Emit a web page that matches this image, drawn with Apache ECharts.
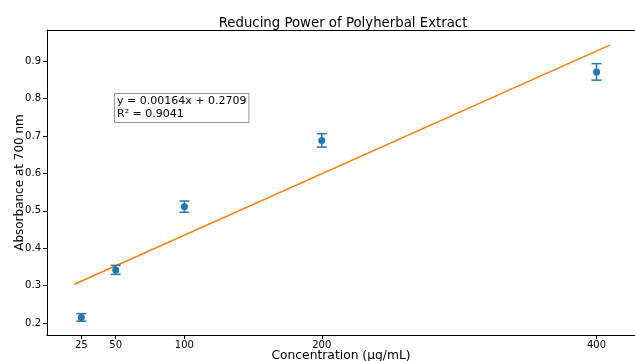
<!DOCTYPE html>
<html>
<head>
<meta charset="utf-8">
<script src="https://cdn.jsdelivr.net/npm/echarts@6/dist/echarts.min.js"></script>
<style>
  html, body { margin: 0; padding: 0; background: #fff; }
  #chart { width: 635px; height: 361px; }
</style>
</head>
<body>
<div id="chart"></div>
<script>
// concentration (ug/mL) and mean absorbance with error (+/-)
var concentrations = [25, 50, 100, 200, 400];
var absorbance = [0.215, 0.342, 0.511, 0.688, 0.871];
var errors = [0.010, 0.012, 0.015, 0.018, 0.022];

// fitted line end points
var fitX = [20, 410];
var fitY = [0.3037, 0.9433];

var xTicks = [25, 50, 100, 200, 400];
var yTicks = [0.2, 0.3, 0.4, 0.5, 0.6, 0.7, 0.8, 0.9];

var equationText = 'y = 0.00164x + 0.2709';
var r2Text = 'R² = 0.9041';

var font = 'DejaVu Sans';
var blue = '#1f77b4';
var orange = '#ff7f0e';

var chart = echarts.init(document.getElementById('chart'));

var points = concentrations.map(function (c, i) { return [c, absorbance[i]]; });
var bars = concentrations.map(function (c, i) {
  return [c, absorbance[i] - errors[i], absorbance[i] + errors[i]];
});
var fitLine = fitX.map(function (x, i) { return [x, fitY[i]]; });

function renderErrorBar(params, api) {
  var x = api.value(0);
  var lo = api.coord([x, api.value(1)]);
  var hi = api.coord([x, api.value(2)]);
  var cap = 5;
  var style = { stroke: blue, lineWidth: 1.5 };
  return {
    type: 'group',
    children: [
      { type: 'line', shape: { x1: lo[0], y1: lo[1], x2: hi[0], y2: hi[1] }, style: style },
      { type: 'line', shape: { x1: lo[0] - cap, y1: lo[1], x2: lo[0] + cap, y2: lo[1] }, style: style },
      { type: 'line', shape: { x1: hi[0] - cap, y1: hi[1], x2: hi[0] + cap, y2: hi[1] }, style: style }
    ]
  };
}

var option = {
  animation: false,
  backgroundColor: '#fff',
  title: {
    text: 'Reducing Power of Polyherbal Extract',
    left: 338,
    top: 12,
    textAlign: 'center',
    textStyle: { fontFamily: font, fontSize: 13.3, fontWeight: 'normal', color: '#000' }
  },
  grid: { left: 47, top: 30, right: 0, bottom: 26, containLabel: false, outerBoundsMode: 'none' },
  xAxis: [{
    type: 'value',
    min: 0,
    max: 428,
    name: 'Concentration (μg/mL)',
    nameLocation: 'middle',
    nameGap: 15,
    nameMoveOverlap: false,
    nameTextStyle: { fontFamily: font, fontSize: 12.3, color: '#000', verticalAlign: 'top' },
    splitLine: { show: false },
    axisLine: { show: true, onZero: false, lineStyle: { color: '#000', width: 1 } },
    axisTick: { show: true, length: 4, customValues: xTicks, lineStyle: { color: '#000' } },
    axisLabel: { customValues: xTicks, fontFamily: font, fontSize: 10, color: '#000', margin: 5 }
  }, {
    type: 'value',
    position: 'top',
    min: 0,
    max: 428,
    axisLine: { show: true, onZero: false, lineStyle: { color: '#000', width: 1 } },
    axisTick: { show: false },
    axisLabel: { show: false },
    splitLine: { show: false }
  }],
  yAxis: {
    type: 'value',
    min: 0.168,
    max: 0.983,
    name: 'Absorbance at 700 nm',
    nameLocation: 'middle',
    nameGap: 27,
    nameMoveOverlap: false,
    nameTextStyle: { fontFamily: font, fontSize: 12, color: '#000', verticalAlign: 'middle' },
    splitLine: { show: false },
    axisLine: { show: true, onZero: false, lineStyle: { color: '#000', width: 1 } },
    axisTick: { show: true, length: 4, customValues: yTicks, lineStyle: { color: '#000' } },
    axisLabel: { customValues: yTicks, fontFamily: font, fontSize: 10, color: '#000', margin: 6,
      formatter: function (v) { return v.toFixed(1); } }
  },
  series: [
    {
      type: 'line',
      data: fitLine,
      showSymbol: false,
      lineStyle: { color: orange, width: 1.5 },
      z: 1
    },
    {
      type: 'custom',
      data: bars,
      renderItem: renderErrorBar,
      z: 2
    },
    {
      type: 'scatter',
      data: points,
      symbolSize: 7,
      itemStyle: { color: blue, opacity: 1 },
      z: 3
    }
  ],
  graphic: [{
    type: 'text',
    left: 114,
    top: 93,
    style: {
      text: equationText + '\n' + r2Text,
      font: '11px "DejaVu Sans"',
      fill: '#000',
      lineHeight: 13,
      backgroundColor: '#fff',
      borderColor: '#999',
      borderWidth: 1,
      padding: [1, 2, 1, 2]
    }
  }]
};

chart.setOption(option);
</script>
</body>
</html>
